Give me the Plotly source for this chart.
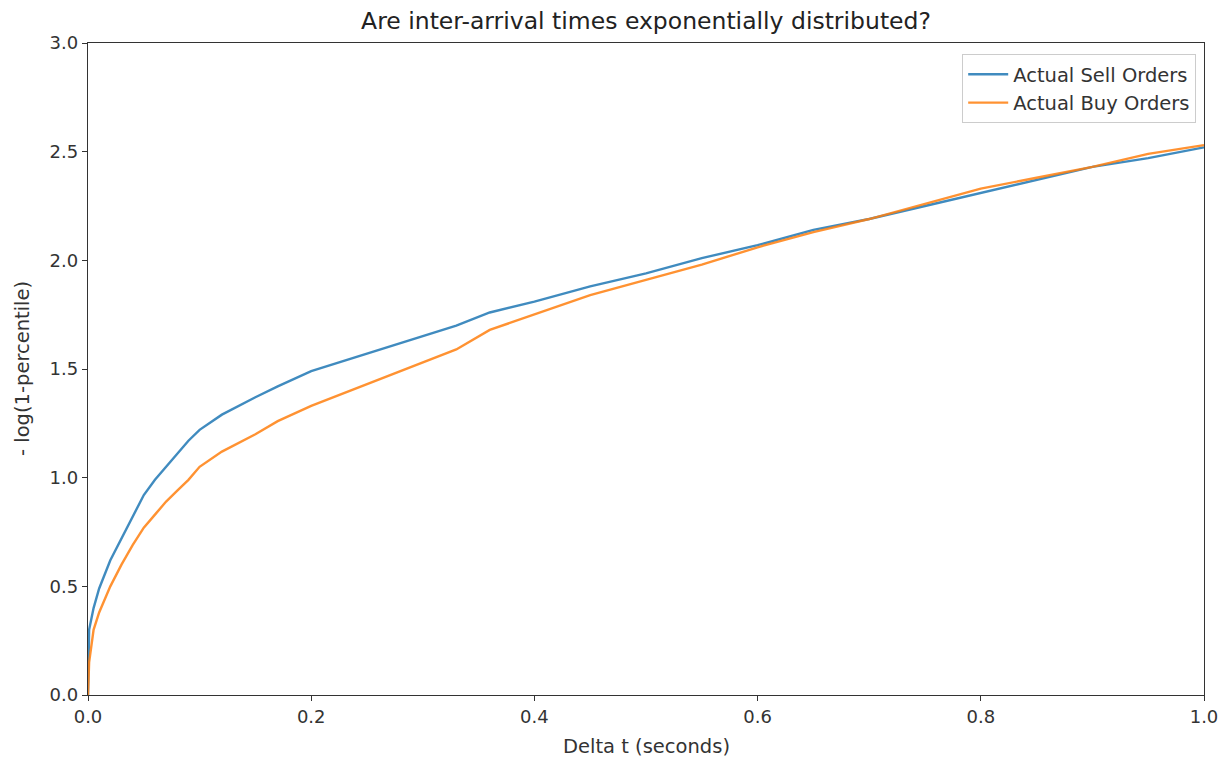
import plotly.graph_objects as go

delta_t = [0.0, 0.001, 0.005, 0.01, 0.02, 0.03, 0.04, 0.05, 0.06, 0.07, 0.08, 0.09, 0.10,
           0.12, 0.15, 0.17, 0.20, 0.25, 0.30, 0.33, 0.36, 0.40, 0.45, 0.50, 0.55, 0.60,
           0.65, 0.70, 0.75, 0.80, 0.85, 0.90, 0.95, 1.00]
sell = [0.0, 0.30, 0.40, 0.49, 0.62, 0.72, 0.82, 0.92, 0.99, 1.05, 1.11, 1.17, 1.22,
        1.29, 1.37, 1.42, 1.49, 1.57, 1.65, 1.70, 1.76, 1.81, 1.88, 1.94, 2.01, 2.07,
        2.14, 2.19, 2.25, 2.31, 2.37, 2.43, 2.47, 2.52]
buy = [0.0, 0.15, 0.30, 0.38, 0.50, 0.60, 0.69, 0.77, 0.83, 0.89, 0.94, 0.99, 1.05,
       1.12, 1.20, 1.26, 1.33, 1.43, 1.53, 1.59, 1.68, 1.75, 1.84, 1.91, 1.98, 2.06,
       2.13, 2.19, 2.26, 2.33, 2.38, 2.43, 2.49, 2.53]

FONT = "DejaVu Sans"

fig = go.Figure()
fig.add_trace(go.Scatter(x=delta_t, y=sell, mode="lines", name="Actual Sell Orders",
                         line=dict(color="rgba(31,119,180,0.85)", width=2.4)))
fig.add_trace(go.Scatter(x=delta_t, y=buy, mode="lines", name="Actual Buy Orders",
                         line=dict(color="rgba(255,127,14,0.85)", width=2.4)))

axis_common = dict(showgrid=False, zeroline=False, showline=True, linecolor="#333",
                   linewidth=1.3, mirror=True, ticks="outside", ticklen=5, tickwidth=1.3,
                   tickcolor="#333", tickfont=dict(family=FONT, size=18, color="#333"),
                   automargin=False)

fig.update_layout(
    width=1225, height=762,
    margin=dict(l=88, r=21, t=43, b=67),
    paper_bgcolor="white", plot_bgcolor="white",
    title=dict(text="Are inter-arrival times exponentially distributed?",
               x=(88 + 1204) / 2 / 1225, xanchor="center", y=1 - 21 / 762, yanchor="middle",
               font=dict(family=FONT, size=23.5, color="#222")),
    xaxis=dict(range=[0, 1], tickvals=[0, 0.2, 0.4, 0.6, 0.8, 1.0],
               ticktext=["0.0", "0.2", "0.4", "0.6", "0.8", "1.0"],
               **axis_common),
    yaxis=dict(range=[0, 3], tickvals=[0, 0.5, 1.0, 1.5, 2.0, 2.5, 3.0],
               ticktext=["0.0", "0.5", "1.0", "1.5", "2.0", "2.5", "3.0"],
               **axis_common),
    legend=dict(x=0.993, y=0.983, xanchor="right", yanchor="top",
                bgcolor="rgba(255,255,255,0.8)", bordercolor="#ccc", borderwidth=1,
                font=dict(family=FONT, size=19.5, color="#333"),
                tracegroupgap=0, itemwidth=40),
    showlegend=True,
    annotations=[
        dict(text="Delta t (seconds)", xref="paper", yref="paper", x=0.5, y=-(746 - 695) / 652,
             xanchor="center", yanchor="middle", showarrow=False,
             font=dict(family=FONT, size=19.5, color="#333")),
        dict(text="- log(1-percentile)", xref="paper", yref="paper", x=-(88 - 22) / 1116, y=0.5,
             xanchor="center", yanchor="middle", textangle=-90, showarrow=False,
             font=dict(family=FONT, size=19.5, color="#333")),
    ],
)

fig.write_html("out.html")
